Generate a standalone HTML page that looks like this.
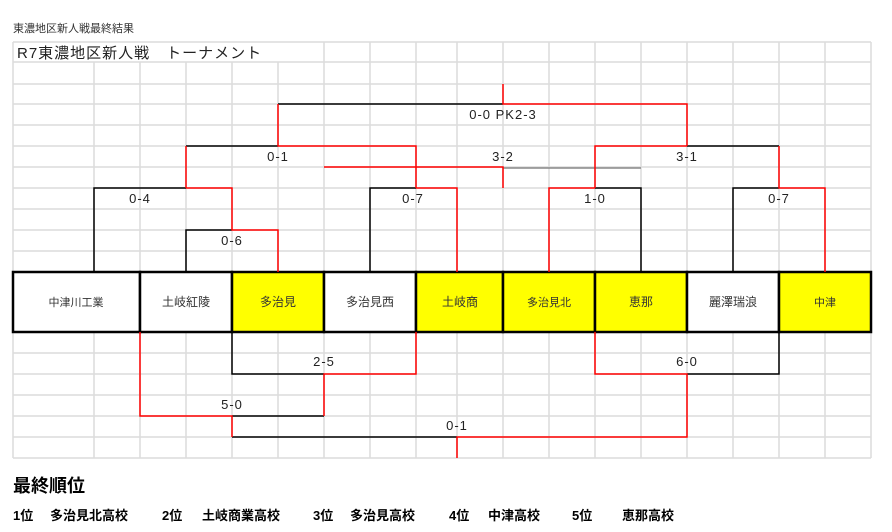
<!DOCTYPE html>
<html><head><meta charset="utf-8"><style>
body{margin:0;background:#fff;width:892px;height:532px;overflow:hidden;font-family:"Liberation Sans","Noto Sans CJK JP",sans-serif}
svg{position:absolute;left:0;top:0}
</style></head><body>
<svg width="892" height="532" xmlns="http://www.w3.org/2000/svg" font-family="Liberation Sans, Noto Sans CJK JP, sans-serif">
<g stroke="#dcdcdc" stroke-width="1.5">
<line x1="13" y1="42" x2="871" y2="42"/><line x1="13" y1="62" x2="871" y2="62"/><line x1="13" y1="84" x2="871" y2="84"/><line x1="13" y1="104" x2="871" y2="104"/><line x1="13" y1="125" x2="871" y2="125"/><line x1="13" y1="146" x2="871" y2="146"/><line x1="13" y1="167" x2="871" y2="167"/><line x1="13" y1="188" x2="871" y2="188"/><line x1="13" y1="209" x2="871" y2="209"/><line x1="13" y1="230" x2="871" y2="230"/><line x1="13" y1="251" x2="871" y2="251"/>
<line x1="13" y1="353" x2="871" y2="353"/><line x1="13" y1="374" x2="871" y2="374"/><line x1="13" y1="395" x2="871" y2="395"/><line x1="13" y1="416" x2="871" y2="416"/><line x1="13" y1="437" x2="871" y2="437"/><line x1="13" y1="458" x2="871" y2="458"/>
<line x1="13" y1="42" x2="13" y2="458"/><line x1="871" y1="42" x2="871" y2="458"/>
<line x1="324" y1="42" x2="324" y2="458"/>
<line x1="370" y1="42" x2="370" y2="458"/><line x1="416" y1="42" x2="416" y2="458"/><line x1="457" y1="42" x2="457" y2="458"/><line x1="503" y1="42" x2="503" y2="458"/><line x1="549" y1="42" x2="549" y2="458"/><line x1="595" y1="42" x2="595" y2="458"/><line x1="641" y1="42" x2="641" y2="458"/><line x1="687" y1="42" x2="687" y2="458"/><line x1="733" y1="42" x2="733" y2="458"/><line x1="779" y1="42" x2="779" y2="458"/><line x1="825" y1="42" x2="825" y2="458"/>
<line x1="94" y1="62" x2="94" y2="458"/><line x1="140" y1="62" x2="140" y2="458"/><line x1="186" y1="62" x2="186" y2="458"/><line x1="232" y1="62" x2="232" y2="458"/><line x1="278" y1="62" x2="278" y2="458"/>
</g>
<text x="13" y="32" font-size="11" fill="#333">東濃地区新人戦最終結果</text>
<text x="17" y="58" font-size="15" fill="#222" letter-spacing="1">R7東濃地区新人戦　トーナメント</text>
<!-- team boxes -->
<g stroke="#000" stroke-width="2.5">
<rect x="13" y="272" width="127" height="60" fill="#fff"/>
<rect x="140" y="272" width="92" height="60" fill="#fff"/>
<rect x="232" y="272" width="92" height="60" fill="#ffff00"/>
<rect x="324" y="272" width="92" height="60" fill="#fff"/>
<rect x="416" y="272" width="87" height="60" fill="#ffff00"/>
<rect x="503" y="272" width="92" height="60" fill="#ffff00"/>
<rect x="595" y="272" width="92" height="60" fill="#ffff00"/>
<rect x="687" y="272" width="92" height="60" fill="#fff"/>
<rect x="779" y="272" width="92" height="60" fill="#ffff00"/>
</g>
<g font-size="12" fill="#333" text-anchor="middle">
<text x="76" y="306" font-size="11">中津川工業</text>
<text x="186" y="306">土岐紅陵</text>
<text x="278" y="306">多治見</text>
<text x="370" y="306">多治見西</text>
<text x="460" y="306">土岐商</text>
<text x="549" y="306" font-size="11">多治見北</text>
<text x="641" y="306">恵那</text>
<text x="733" y="306">麗澤瑞浪</text>
<text x="825" y="306" font-size="11">中津</text>
</g>
<g fill="none" stroke-width="1.5">
<!-- black -->
<g stroke="#000">
<path d="M278 104H503"/><path d="M186 146H278"/><path d="M687 146H779"/>
<path d="M94 272V188H186"/><path d="M186 272V230H232"/>
<path d="M370 272V188H416"/><path d="M595 188H641V272"/><path d="M733 272V188H779"/>
<path d="M232 332V374H324"/><path d="M232 416H324"/>
<path d="M687 374H779V332"/><path d="M232 437H457"/>
</g>
<g stroke="#888"><path d="M503 168H641"/></g>
<g stroke="#f00">
<path d="M503 84V104H687V146"/><path d="M278 104V146H416V188"/><path d="M186 188V146"/>
<path d="M324 167H503V188"/>
<path d="M595 188V146H687"/><path d="M779 146V188H825V272"/>
<path d="M186 188H232V230H278V272"/><path d="M416 188H457V272"/><path d="M549 272V188H595"/>
<path d="M416 332V374H324V416"/><path d="M140 332V416H232V437"/>
<path d="M595 332V374H687V437H457V458"/>
</g>
</g>
<g font-size="13" fill="#222" text-anchor="middle" letter-spacing="1">
<text x="503" y="119">0-0 PK2-3</text>
<text x="278" y="161">0-1</text><text x="503" y="161">3-2</text><text x="687" y="161">3-1</text>
<text x="140" y="203">0-4</text><text x="413" y="203">0-7</text><text x="595" y="203">1-0</text><text x="779" y="203">0-7</text>
<text x="232" y="245">0-6</text>
<text x="324" y="366">2-5</text><text x="687" y="366">6-0</text>
<text x="232" y="409">5-0</text><text x="457" y="430">0-1</text>
</g>
<text x="13" y="492" font-size="18" font-weight="bold" fill="#000">最終順位</text>
<g font-size="13" font-weight="bold" fill="#000">
<text x="13" y="520">1位</text><text x="50" y="520">多治見北高校</text>
<text x="162" y="520">2位</text><text x="202" y="520">土岐商業高校</text>
<text x="313" y="520">3位</text><text x="350" y="520">多治見高校</text>
<text x="449" y="520">4位</text><text x="488" y="520">中津高校</text>
<text x="572" y="520">5位</text><text x="622" y="520">恵那高校</text>
</g>
</svg>
</body></html>
